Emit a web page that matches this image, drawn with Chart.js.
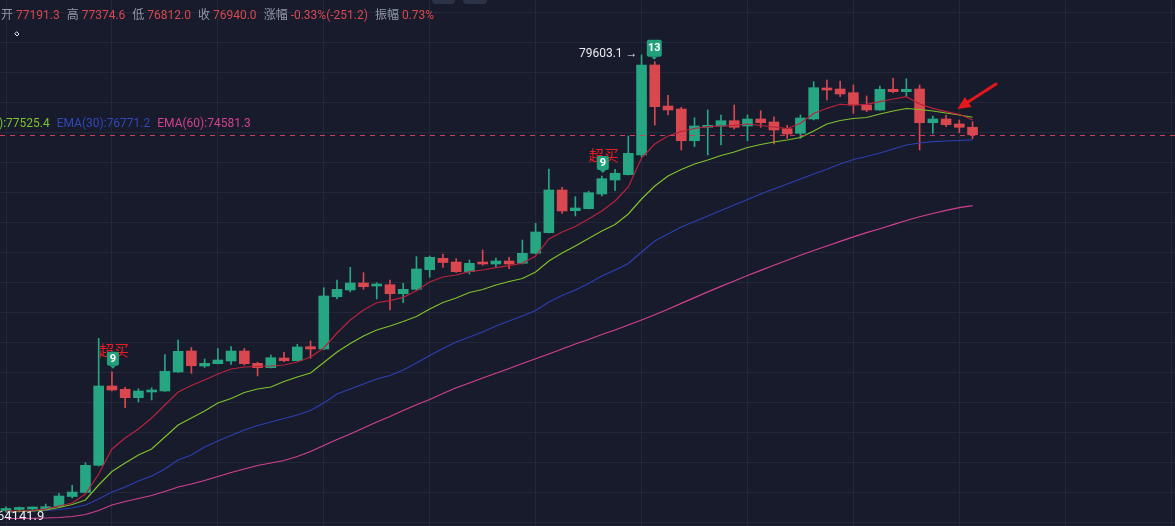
<!DOCTYPE html>
<html>
<head>
<meta charset="utf-8">
<script src="https://cdn.jsdelivr.net/npm/chart.js@4.4.1/dist/chart.umd.min.js"></script>
<style>
  html, body { margin: 0; padding: 0; background: #171b2c; overflow: hidden; }
  #wrap { position: relative; width: 1175px; height: 526px; }
  #chart { position: absolute; left: 0; top: 0; }
  .hdr { position: absolute; left: 1px; top: 8px; font: 12px Roboto, "Noto Sans CJK SC", sans-serif; line-height: 14px; white-space: nowrap; }
  .hdr .l { color: #9299a8; margin-right: 3px; }
  .hdr .v { color: #d9474f; margin-right: 7px; }
  .leg { position: absolute; left: -1px; top: 116px; font: 12px Roboto, sans-serif; line-height: 14px; white-space: nowrap; }
  .leg span { margin-right: 7px; }
  .btn { position: absolute; top: -20px; height: 24px; border-radius: 4px; background: #2c3346; }
</style>
</head>
<body>
<div id="wrap">
  <canvas id="chart" width="1175" height="526"></canvas>
  <div class="hdr" id="hdr"></div>
  <div class="leg" id="leg"></div>
  <div class="btn" style="left:432px;width:23px"></div>
  <div class="btn" style="left:463px;width:24px"></div>
</div>
<script>
// K线数据
const opens  = [64417,64450,64467,64467,64543,64883,65017,65923,68567,68457,
                68177,68367,68400,69033,69733,69233,69310,69400,69733,69323,
                69177,69500,69410,69877,69800,71543,71767,72000,71900,71943,
                71643,71790,72443,72823,72700,72377,72700,72633,72733,72657,
                72990,73677,75100,74410,74477,74967,75433,75610,76267,79267,
                77900,77800,76743,77190,77233,77410,77233,77467,77367,77143,
                76990,77467,78500,78467,78343,77933,77767,78457,78377,78467,
                77343,77467,77300,77191.3];
const highs  = [64543,64533,64533,64633,64990,65257,66010,70157,69043,68523,
                68477,68510,69610,70100,69850,69467,69810,69877,69823,69357,
                69600,69690,69957,70067,71843,72100,72523,72343,72010,72100,
                71990,72877,72900,72967,72810,72767,73100,72833,72857,73433,
                73990,75800,75190,74877,75057,75567,75790,76900,79603.1,79377,
                78257,77857,77510,77767,77600,77933,77600,77743,77543,77257,
                77600,78710,78767,78733,78600,78233,78567,78823,78810,78600,
                77567,77600,77433,77374.6];
const lows   = [64367,64367,64400,64433,64533,64833,65000,65900,68400,67843,
                68033,68100,68383,69017,68990,69183,69300,69290,69267,68900,
                69167,69377,69400,69490,69783,71467,71700,71790,71467,71100,
                71343,71767,72190,72517,72350,72300,72590,72543,72477,72633,
                72967,73667,74323,74233,74467,74900,75077,75600,76200,77267,
                77600,76433,76543,76267,76600,77133,76743,77190,76633,76823,
                76823,77433,78100,78210,77657,77710,77750,78343,78210,76433,
                76990,77210,77010,76812.0];
const closes = [64450,64467,64483,64543,64900,65033,65923,68567,68433,68177,
                68400,68433,69057,69723,69243,69323,69433,69733,69310,69177,
                69510,69410,69867,69800,71567,71790,72000,71877,71943,71643,
                71790,72467,72857,72683,72377,72657,72633,72733,72633,72990,
                73700,75100,74400,74500,75010,75477,75657,76323,79267,77877,
                77767,76743,77233,77257,77410,77190,77467,77343,77100,76967,
                77500,78510,78433,78300,77933,77767,78457,78377,78457,77343,
                77467,77277,77190,76940.0];

// 均线
const emaFast = [64400,64400,64417,64467,64567,64667,64967,65633,66467,66833,
                 67133,67500,67933,68367,68583,68767,68967,69133,69200,69217,
                 69233,69267,69367,69533,69833,70333,70767,71100,71343,71410,
                 71523,71743,72033,72200,72267,72377,72433,72510,72577,72657,
                 72900,73467,73700,73883,74133,74400,74733,75200,76167,76633,
                 76900,77050,77150,77210,77233,77257,77300,77250,77200,77143,
                 77323,77650,77823,77957,77933,77957,78043,78133,78210,77967,
                 77823,77710,77623,77433];
const emaMid  = [64367,64383,64400,64433,64517,64617,64767,65267,65717,66000,
                 66267,66467,66867,67267,67500,67733,68000,68150,68350,68467,
                 68533,68717,68867,69000,69350,69700,69983,70233,70433,70567,
                 70717,70883,71133,71350,71500,71683,71783,71933,72050,72150,
                 72367,72733,73000,73233,73483,73733,73950,74300,74800,75233,
                 75567,75783,75967,76100,76250,76367,76517,76617,76700,76767,
                 76850,77067,77300,77417,77483,77517,77633,77733,77817,77783,
                 77733,77667,77600,77525.4];
const ema30   = [64367,64383,64400,64417,64450,64500,64600,64800,65033,65200,
                 65400,65567,65800,66100,66267,66533,66733,66917,67100,67250,
                 67367,67483,67600,67750,68000,68300,68467,68633,68800,68917,
                 69100,69333,69583,69817,70033,70200,70367,70567,70733,70900,
                 71083,71367,71583,71767,71983,72233,72433,72650,73033,73400,
                 73633,73867,74050,74233,74417,74600,74783,74967,75133,75300,
                 75467,75633,75790,75967,76117,76217,76333,76467,76600,76667,
                 76710,76733,76750,76771.2];
const ema60   = [64150,64150,64157,64167,64183,64217,64283,64417,64600,64717,
                 64817,64917,65050,65200,65300,65417,65550,65683,65800,65917,
                 66000,66083,66217,66383,66583,66783,66967,67167,67367,67550,
                 67750,67943,68117,68317,68510,68667,68833,68990,69150,69317,
                 69477,69633,69800,69967,70117,70283,70433,70600,70767,70943,
                 71127,71320,71513,71703,71887,72067,72250,72420,72590,72757,
                 72927,73083,73233,73387,73537,73677,73810,73947,74083,74207,
                 74317,74420,74513,74581.3];

// 顶部信息栏
const hdrLabels = ['开', '高', '低', '收', '涨幅', '振幅'];
const hdrValues = ['77191.3', '77374.6', '76812.0', '76940.0', '-0.33%(-251.2)', '0.73%'];

// 标记
const lowLabel      = 64141.9;
const overboughtAt  = [8, 45];
const overboughtNum = ['9', '9'];
const countAt       = [49];
const countNum      = ['13'];

const UP = '#26a683', DOWN = '#d9474f';

// header + legend
document.getElementById('hdr').innerHTML = hdrLabels
  .map((l, i) => `<span class="l">${l}</span><span class="v">${hdrValues[i]}</span>`).join('');
document.getElementById('leg').innerHTML =
  `<span style="color:#7fc12b">):${emaMid[emaMid.length - 1].toFixed(1)}</span>` +
  `<span style="color:#3347b8">EMA(30):${ema30[ema30.length - 1].toFixed(1)}</span>` +
  `<span style="color:#d2408f">EMA(60):${ema60[ema60.length - 1].toFixed(1)}</span>`;

const idx = closes.map((_, i) => i);
const colors = idx.map(i => closes[i] >= opens[i] ? UP : DOWN);

function badge(ctx, cx, bottom, w, h, text) {
  const top = bottom - h;
  ctx.fillStyle = '#22a07b';
  ctx.beginPath();
  ctx.roundRect(cx - w / 2, top, w, h, 2);
  ctx.fill();
  ctx.beginPath();
  ctx.moveTo(cx - 3, bottom); ctx.lineTo(cx + 3, bottom); ctx.lineTo(cx, bottom + 3);
  ctx.fill();
  ctx.fillStyle = '#ffffff';
  ctx.font = 'bold 11px Roboto';
  ctx.textAlign = 'center';
  ctx.textBaseline = 'middle';
  ctx.fillText(text, cx, top + h / 2 + 0.5);
}

const marks = {
  id: 'marks',
  afterDatasetsDraw(chart) {
    const { ctx, chartArea, scales: { x, y } } = chart;
    ctx.save();

    // 现价虚线
    const py = Math.round(y.getPixelForValue(closes[closes.length - 1])) + 0.5;
    ctx.strokeStyle = '#cc3f5a';
    ctx.lineWidth = 1;
    ctx.setLineDash([5, 5]);
    ctx.beginPath(); ctx.moveTo(chartArea.left, py); ctx.lineTo(chartArea.right, py); ctx.stroke();
    ctx.setLineDash([]);

    // 最高价
    const hi = Math.max(...highs), hiI = highs.indexOf(hi);
    ctx.font = '12px Roboto';
    ctx.fillStyle = '#e8eaf0';
    ctx.textAlign = 'right';
    ctx.textBaseline = 'middle';
    ctx.fillText(hi.toFixed(1) + ' →', x.getPixelForValue(hiI) - 4, y.getPixelForValue(hi) - 0.5);

    // 最低价
    ctx.font = '13px Roboto';
    ctx.textAlign = 'left';
    ctx.fillText(lowLabel.toFixed(1), chartArea.left - 3, y.getPixelForValue(lowLabel) - 2);

    // 超买
    overboughtAt.forEach((i, k) => {
      const cx = x.getPixelForValue(i) + 1, hy = y.getPixelForValue(highs[i]);
      ctx.font = '15px "Noto Sans CJK SC"';
      ctx.fillStyle = '#ea1c22';
      ctx.textAlign = 'center';
      ctx.textBaseline = 'middle';
      ctx.fillText('超买', cx + 1, hy - 21);
      badge(ctx, cx, hy - 6, 12, 14, overboughtNum[k]);
    });
    countAt.forEach((i, k) => {
      const cx = x.getPixelForValue(i) - 0.5, hy = y.getPixelForValue(highs[i]);
      badge(ctx, cx, hy - 5, 15, 17, countNum[k]);
    });

    // 红色箭头
    const tip  = [x.getPixelForValue(71.85), y.getPixelForValue(77800)];
    const tail = [x.getPixelForValue(74.77), y.getPixelForValue(78633)];
    const dx = tip[0] - tail[0], dy = tip[1] - tail[1], len = Math.hypot(dx, dy);
    const ux = dx / len, uy = dy / len;
    ctx.strokeStyle = ctx.fillStyle = '#e5161c';
    ctx.lineWidth = 3;
    ctx.lineCap = 'round';
    ctx.beginPath();
    ctx.moveTo(tail[0], tail[1]);
    ctx.lineTo(tip[0] - ux * 9, tip[1] - uy * 9);
    ctx.stroke();
    ctx.beginPath();
    ctx.moveTo(tip[0], tip[1]);
    ctx.lineTo(tip[0] - ux * 13 - uy * 6, tip[1] - uy * 13 + ux * 6);
    ctx.lineTo(tip[0] - ux * 13 + uy * 6, tip[1] - uy * 13 - ux * 6);
    ctx.closePath();
    ctx.fill();

    // 小菱形
    ctx.strokeStyle = '#e8eaf0';
    ctx.lineWidth = 1;
    ctx.beginPath();
    ctx.moveTo(17, 32); ctx.lineTo(19, 34); ctx.lineTo(17, 36); ctx.lineTo(15, 34); ctx.closePath();
    ctx.stroke();

    ctx.restore();
  }
};

const line = (data, color) => ({
  type: 'line',
  data: idx.map(i => ({ x: i, y: data[i] })),
  borderColor: color,
  borderWidth: 1.2,
  pointRadius: 0,
  tension: 0,
  order: 0
});

const gridColor = '#232839';

new Chart(document.getElementById('chart'), {
  type: 'bar',
  data: {
    datasets: [
      line(emaFast, '#b8233b'),
      line(emaMid, '#7fc12b'),
      line(ema30, '#2c3fb0'),
      line(ema60, '#d2408f'),
      {
        type: 'bar',
        data: idx.map(i => ({ x: i, y: [opens[i], closes[i]] })),
        backgroundColor: colors,
        barThickness: 10,
        minBarLength: 2,
        grouped: false,
        order: 2
      },
      {
        type: 'bar',
        data: idx.map(i => ({ x: i, y: [lows[i], highs[i]] })),
        backgroundColor: colors,
        barThickness: 1,
        grouped: false,
        order: 3
      }
    ]
  },
  options: {
    responsive: false,
    animation: false,
    layout: { padding: 0, autoPadding: false },
    plugins: { legend: { display: false }, tooltip: { enabled: false } },
    scales: {
      x: {
        type: 'linear',
        min: -0.4532,
        max: 88.29,
        offset: false,
        grid: { color: gridColor, drawTicks: false, offset: false },
        border: { display: false },
        ticks: { display: false },
        afterBuildTicks: s => {
          s.ticks = [];
          for (let v = 0; v <= 88; v += 8) s.ticks.push({ value: v });
        }
      },
      y: {
        min: 63900,
        max: 81433.33,
        grid: { color: gridColor, drawTicks: false },
        border: { display: false },
        ticks: { display: false },
        afterBuildTicks: s => {
          s.ticks = [];
          for (let v = 64000; v <= 81000; v += 1000) s.ticks.push({ value: v });
        }
      }
    }
  },
  plugins: [marks]
});
</script>
</body>
</html>
